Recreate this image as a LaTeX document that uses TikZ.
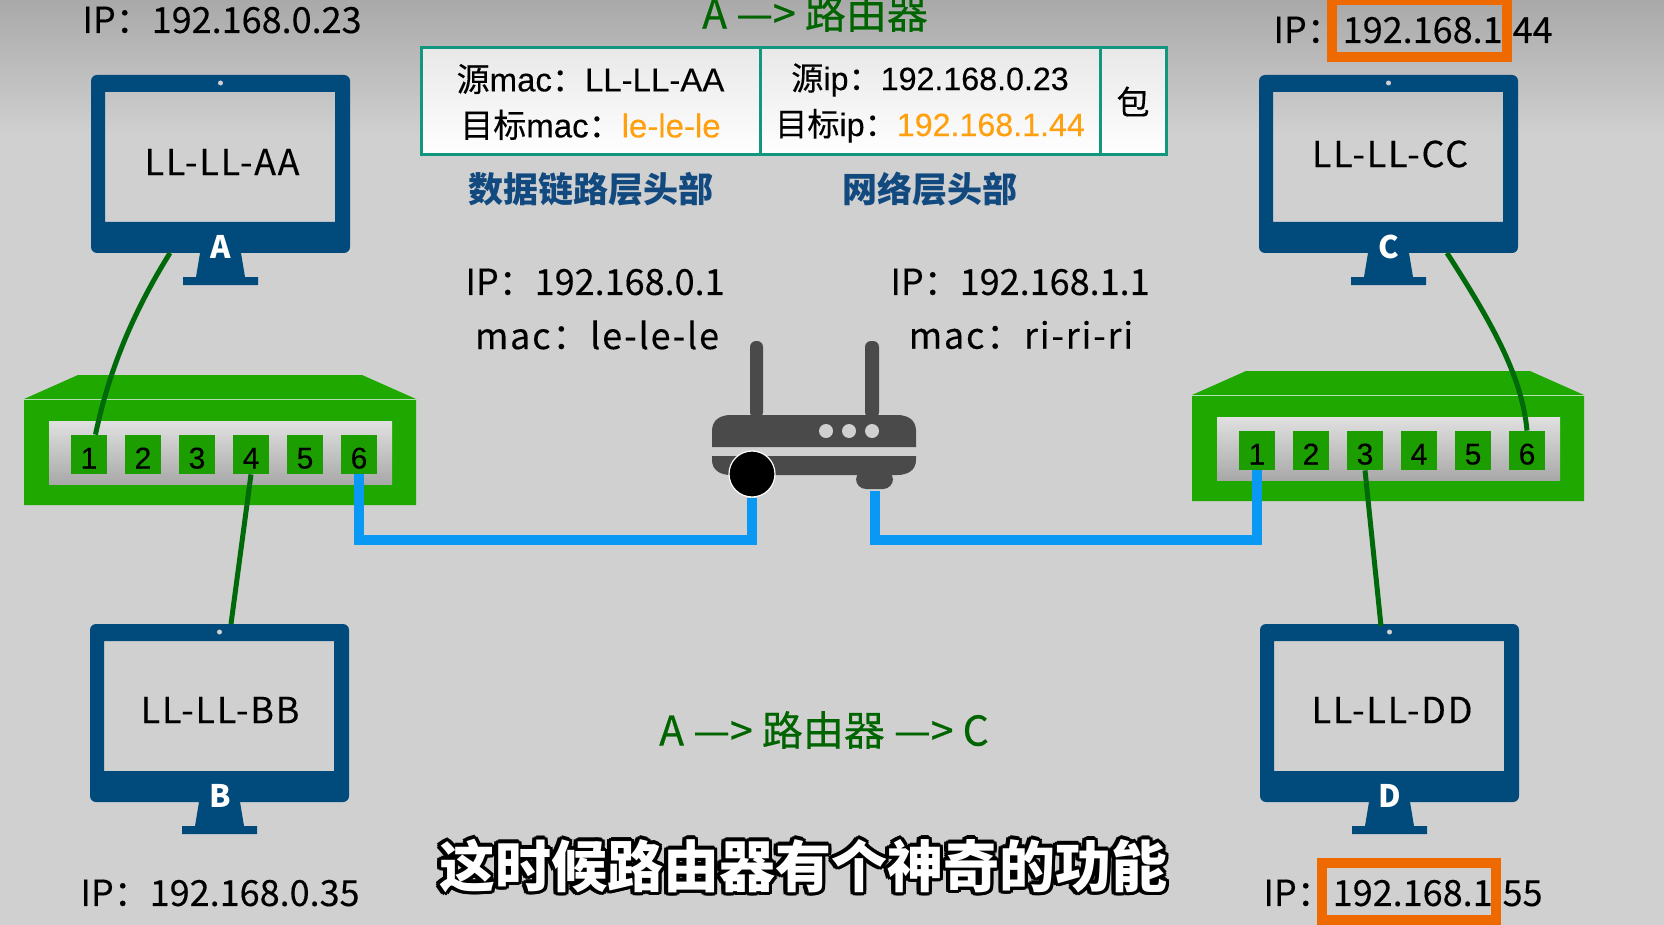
\documentclass[tikz,border=0pt]{standalone}
\usepackage{fontspec}
\setmainfont{Noto Sans CJK SC}
\newfontfamily\latinfont[FakeBold=0.25]{Liberation Sans}
\newfontfamily\hzfont[FakeBold=0.25]{Noto Sans CJK SC}
\newfontfamily\midfont[FakeBold=0.5]{Noto Sans CJK SC}
\newfontfamily\widefont[LetterSpace=5,FakeBold=0.2]{Noto Sans CJK SC}
\usetikzlibrary{calc, positioning}
\definecolor{pagegray}{HTML}{D0D0D0}
\definecolor{topgray}{HTML}{A9A9A9}
\definecolor{monblue}{HTML}{004A7C}
\definecolor{swgreen}{HTML}{1FA800}
\definecolor{portgreen}{HTML}{1C9E00}
\definecolor{cabgreen}{HTML}{006A0A}
\definecolor{cabblue}{HTML}{0A98F5}
\definecolor{routergray}{HTML}{4A4A4A}
\definecolor{teal}{HTML}{12967E}
\definecolor{hiorange}{HTML}{EE6A00}
\definecolor{valorange}{HTML}{FFA00F}
\definecolor{capblue}{HTML}{124A80}
\definecolor{flowgreen}{HTML}{006400}
\tikzset{
  iplabel/.style={font=\hzfont\fontsize{18}{22}\selectfont, inner sep=0pt},
  maclabel/.style={font=\widefont\fontsize{18}{22}\selectfont, inner sep=0pt},
  flowlabel/.style={font=\midfont\fontsize{20.5}{22}\selectfont, text=flowgreen, inner sep=0pt},
  caplabel/.style={font=\fontsize{17.5}{22}\bfseries\selectfont, text=capblue, inner sep=0pt},
  port/.style={fill=portgreen, minimum width=18pt, minimum height=19.5pt, inner sep=0pt,
    text height=14pt, text depth=0pt, font=\latinfont\fontsize{15}{18}\selectfont},
  cell/.style={draw=teal, line width=1.5pt, top color=black!9, middle color=white, bottom color=white,
    minimum height=53.5pt, inner sep=0pt},
  celltext/.style={inner sep=0pt, align=center, font=\latinfont\fontsize{16.5}{23}\selectfont},
  greencab/.style={cabgreen, line width=2.5pt},
  bluecab/.style={cabblue, line width=5pt},
  hibox/.style={hiorange, line width=5pt},
  sub/.style={font=\fontsize{28}{32}\bfseries\selectfont, inner sep=0pt}
}
\newcommand{\hz}[1]{{\hzfont #1}}
\newcommand{\saytext}{这时候路由器有个神奇的功能}
\begin{document}
\begin{tikzpicture}[x=0.5pt, y=-0.5pt]
\useasboundingbox (0,0) rectangle (1664,925);
\fill[pagegray] (0,0) rectangle (1664,925);
\shade[top color=topgray, bottom color=pagegray] (0,0) rectangle (1664,135);

% monitors
\foreach \nm/\px/\py/\lb/\tx/\ty in {A/91/75/LL-LL-AA/222/162, B/90/624/LL-LL-BB/220/710,
    C/1259/75/LL-LL-CC/1390/154, D/1260/624/LL-LL-DD/1392/710} {
  \begin{scope}[shift={(\px,\py)}]
  \fill[monblue, even odd rule] [rounded corners=3pt] (0,0) rectangle (259,178) [sharp corners] (14,17) rectangle (244,147);
  \fill[monblue] (109,178) -- (150,178) -- (154,202) -- (167,202) -- (167,210) -- (92,210) -- (92,202) -- (105,202) -- cycle;
  \fill[pagegray] (129.5,8) circle (2.5);
  \node[inner sep=0pt, minimum width=129.5pt, minimum height=89pt, anchor=north west] (mon\nm) at (0,0) {};
  \node[text=white, font=\fontsize{15.5}{18}\bfseries\selectfont, inner sep=0pt] (tag\nm) at (130,172) {\nm};
  \end{scope}
  \node[maclabel] (scr\nm) at (\tx,\ty) {\lb};
}

% switches
\foreach \sw/\dx/\dy in {L/0/0, R/1168/-4} {
  \begin{scope}[shift={(\dx,\dy)}]
  \fill[swgreen] (24,399) -- (78,375) -- (362,375) -- (416,399) -- (416,505) -- (24,505) -- cycle;
  \draw[green!60!black!30!white, thin] (24,399) -- (416,399);
  \shade[top color=black!12, bottom color=black!34] (49,421) rectangle (392,484);
  \foreach \n in {1,...,6} \node[port] (port\sw\n) at ({89+54*(\n-1)},454.5) {\n};
  \end{scope}
}

% router
\fill[routergray, rounded corners=3pt] (750,418) -- (750,341) -- (763,341) -- (763,418) -- cycle;
\fill[routergray, rounded corners=3pt] (865,418) -- (865,341) -- (879,341) -- (879,418) -- cycle;
\fill[routergray] (712,447) -- (712,431) .. controls (712,420) and (720,415) .. (731,415) -- (897,415)
  .. controls (908,415) and (916,420) .. (916,431) -- (916,447) -- cycle;
\fill[routergray] (712,456) -- (916,456) -- (916,460) .. controls (916,470) and (908,475) .. (897,475)
  -- (731,475) .. controls (720,475) and (712,470) .. (712,460) -- cycle;
\fill[routergray, rounded corners=5pt] (856,470) -- (856,489) -- (893,489) -- (893,470) -- cycle;
\foreach \lx in {826,849,872} \fill[pagegray] (\lx,431) circle (7);
\node[circle, fill=black, draw=white, line width=0.6pt, minimum size=23pt, inner sep=0pt] (lanport) at (752,474) {};
\coordinate (wanport) at (875,491);

% cables
\coordinate (cabA) at (170,253);
\coordinate (cabB) at (231,624);
\coordinate (cabC) at (1447,253);
\coordinate (cabD) at (1381,626);
\draw[greencab] (cabA) .. controls (125,325) and (106,385) .. (portL1.72);
\draw[greencab] (portL4.south) -- (cabB);
\draw[greencab] (cabC) .. controls (1490,320) and (1522,375) .. (portR6.north);
\draw[greencab] (portR3.south) -- (cabD);
\draw[bluecab] (portL6.south) -- ++(0,66) -| (lanport.south);
\draw[bluecab] (wanport) -- ++(0,49) -| (portR1.south);

% address labels
\node[iplabel] (ipA) at (222,20) {IP：192.168.0.23};
\node[iplabel] (ipB) at (220,893) {IP：192.168.0.35};
\node[iplabel] (ipC) at (1413,30) {IP：192.168.1.44};
\node[iplabel] (ipD) at (1403,893) {IP：192.168.1.55};
\draw[hibox] (1332,0) rectangle (1507,57);
\draw[hibox] (1322,863) rectangle (1496,920);
\node[iplabel] (ipLan) at (595,282) {IP：192.168.0.1};
\node[maclabel] (macLan) at (597,335) {mac：le-le-le};
\node[iplabel] (ipWan) at (1020,282) {IP：192.168.1.1};
\node[maclabel] (macWan) at (1021,335) {mac：ri-ri-ri};

% packet
\node[cell, minimum width=169.5pt] (cellMac) at (590.5,101.5) {};
\node[cell, minimum width=170pt] (cellIp) at (930,101.5) {};
\node[cell, minimum width=33pt] (cellData) at (1133,101.5) {};
\node[celltext] (txtMac) at (590.5,102) {\hz{源}mac\hz{：}LL-LL-AA\\\hz{目标}mac\hz{：}\textcolor{valorange}{le-le-le}};
\node[celltext, font=\latinfont\fontsize{16.1}{23}\selectfont] (txtIp) at (930,103) {\hz{源}ip\hz{：}192.168.0.23\\\hz{目标}ip\hz{：}\textcolor{valorange}{192.168.1.44}};
\node[celltext] (txtData) at (1133,101.5) {\hz{包}};
\node[caplabel] (capMac) at (591,189) {数据链路层头部};
\node[caplabel] (capIp) at (930,189) {网络层头部};
\node[flowlabel] (flowTop) at (815,13) {A —> 路由器};
\node[flowlabel] (flowAll) at (824,730) {A —> 路由器 —> C};

% subtitle
\foreach \a in {0,30,...,330} \node[sub, text=black] (say\a) at ($(803,866)+(\a:3.5)$) {\saytext};
\node[sub, text=white] (say) at (803,866) {\saytext};
\end{tikzpicture}
\end{document}
